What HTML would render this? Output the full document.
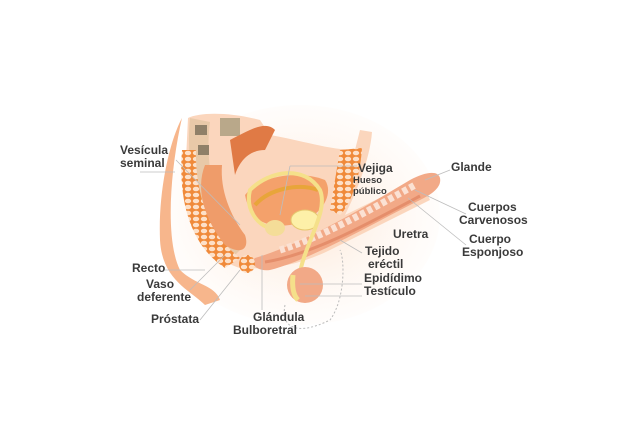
<!DOCTYPE html>
<html><head><meta charset="utf-8"><style>
html,body{margin:0;padding:0;background:#fff;}
body{width:643px;height:440px;position:relative;overflow:hidden;font-family:"Liberation Sans",sans-serif;}
.t{position:absolute;color:#3a3a3a;font-size:12px;font-weight:bold;line-height:13px;white-space:nowrap;}
.s{font-size:9.5px;line-height:11px;}
</style></head><body>
<svg width="643" height="440" style="position:absolute;left:0;top:0">
<defs>
<radialGradient id="bg" cx="0.5" cy="0.5" r="0.6">
<stop offset="0" stop-color="#fde6d4"/><stop offset="1" stop-color="#fff6ef" stop-opacity="0"/></radialGradient>
<pattern id="hc" width="8" height="6" patternUnits="userSpaceOnUse">
<rect width="8" height="6" fill="#f08a3a"/><ellipse cx="4" cy="3" rx="3.2" ry="2.3" fill="#fde0c8"/></pattern>
</defs>
<ellipse cx="300" cy="215" rx="140" ry="110" fill="url(#bg)"/>
<!-- back / skin outline -->
<path d="M182,118 C170,170 165,240 180,270 C195,285 215,285 220,300 L205,305 C190,290 162,280 160,240 C158,190 170,140 182,118Z" fill="#f7b68c"/>
<!-- pelvic body -->
<path d="M188,118 C200,112 230,112 260,120 L270,135 C300,140 330,150 355,150 L360,130 L372,132 C370,160 355,195 345,215 L420,178 L430,200 L330,250 C300,265 270,270 240,268 C210,260 190,220 185,180 Z" fill="#fbd6bd"/>
<!-- spine band -->
<path d="M190,118 L210,122 C205,160 212,210 240,250 L228,262 C198,225 185,170 190,118Z" fill="#e8c9a8"/>
<rect x="195" y="125" width="12" height="10" fill="#8f8068"/>
<rect x="198" y="145" width="11" height="10" fill="#8f8068"/>
<rect x="220" y="118" width="20" height="18" fill="#b9a88a"/>
<!-- sacral bone orange muscle -->
<path d="M182,150 C178,200 190,245 225,268 L240,258 C210,235 195,195 196,150Z" fill="url(#hc)"/>
<!-- colon upper -->
<path d="M230,140 C250,130 265,120 275,130 L265,150 C250,150 240,160 235,175Z" fill="#e07a45"/>
<!-- rectum -->
<path d="M205,165 C195,190 205,220 225,245 C240,255 250,250 245,235 C230,215 220,190 222,165Z" fill="#ef9c6a"/>
<!-- bladder area -->
<path d="M245,195 C260,175 300,170 325,180 C335,195 320,220 290,225 C265,228 250,220 245,195Z" fill="#f4a16b"/>
<path d="M255,205 C270,188 300,183 318,190" stroke="#e8a53a" stroke-width="4" fill="none"/>
<!-- pubic bone -->
<ellipse cx="305" cy="220" rx="14" ry="10" fill="#fdf0a8" stroke="#e6c870"/>
<!-- pubic muscle front -->
<path d="M340,150 L362,148 C360,180 350,205 340,215 L330,210Z" fill="url(#hc)"/>
<!-- penis shaft -->
<path d="M255,258 C300,245 360,210 410,180 C425,172 438,170 440,178 C442,188 430,195 420,200 C370,225 310,260 270,270 C255,272 250,262 255,258Z" fill="#f2a987"/>
<path d="M280,250 C320,238 370,210 415,185" stroke="#fbe1d3" stroke-width="7" fill="none" stroke-dasharray="5 3"/>
<path d="M265,262 C310,255 360,228 420,196" stroke="#e58e6b" stroke-width="3" fill="none"/>
<!-- vas deferens yellow loop -->
<path d="M298,290 C298,250 330,215 320,190 C305,165 270,170 250,190 C245,210 258,225 270,228" stroke="#f5e08a" stroke-width="4" fill="none"/>
<ellipse cx="275" cy="228" rx="10" ry="8" fill="#f4dd98"/>
<!-- prostate / bulb -->
<ellipse cx="247" cy="264" rx="8" ry="9" fill="url(#hc)"/>
<!-- testis -->
<ellipse cx="305" cy="285" rx="18" ry="18" fill="#f2a987"/>
<path d="M293,275 C292,285 293,295 298,300" stroke="#f5e08a" stroke-width="5" fill="none"/>
<path d="M285,305 C280,330 300,335 330,320 C345,300 345,260 340,250" stroke="#bbb" stroke-dasharray="2 2" fill="none"/>
<!-- leader lines -->
<g stroke="#bdbdbd" stroke-width="0.8" fill="none">
<line x1="140" y1="172" x2="175" y2="172"/>
<line x1="176" y1="160" x2="240" y2="225"/>
<line x1="357" y1="166" x2="290" y2="166"/><line x1="290" y1="166" x2="280" y2="215"/>
<line x1="450" y1="170" x2="425" y2="180"/>
<line x1="466" y1="214" x2="415" y2="190"/>
<line x1="466" y1="245" x2="408" y2="198"/>
<line x1="362" y1="253" x2="340" y2="240"/>
<line x1="165" y1="270" x2="205" y2="270"/>
<line x1="190" y1="290" x2="225" y2="255"/>
<line x1="200" y1="320" x2="240" y2="270"/>
<line x1="262" y1="310" x2="262" y2="255"/>
<line x1="362" y1="284" x2="300" y2="284"/>
<line x1="362" y1="296" x2="305" y2="296"/>
</g>
</svg>
<div class="t" style="left:120px;top:144px">Vesícula<br>seminal</div>
<div class="t" style="left:358px;top:162px">Vejiga</div>
<div class="t s" style="left:353px;top:175px">Hueso<br>público</div>
<div class="t" style="left:451px;top:161px">Glande</div>
<div class="t" style="left:468px;top:201px">Cuerpos</div>
<div class="t" style="left:459px;top:214px">Carvenosos</div>
<div class="t" style="left:393px;top:228px">Uretra</div>
<div class="t" style="left:469px;top:233px">Cuerpo</div>
<div class="t" style="left:462px;top:246px">Esponjoso</div>
<div class="t" style="left:365px;top:245px">Tejido</div>
<div class="t" style="left:368px;top:258px">eréctil</div>
<div class="t" style="left:132px;top:262px">Recto</div>
<div class="t" style="left:146px;top:278px">Vaso</div>
<div class="t" style="left:137px;top:291px">deferente</div>
<div class="t" style="left:364px;top:272px">Epidídimo</div>
<div class="t" style="left:364px;top:285px">Testículo</div>
<div class="t" style="left:151px;top:313px">Próstata</div>
<div class="t" style="left:253px;top:311px">Glándula</div>
<div class="t" style="left:233px;top:324px">Bulboretral</div>
</body></html>
